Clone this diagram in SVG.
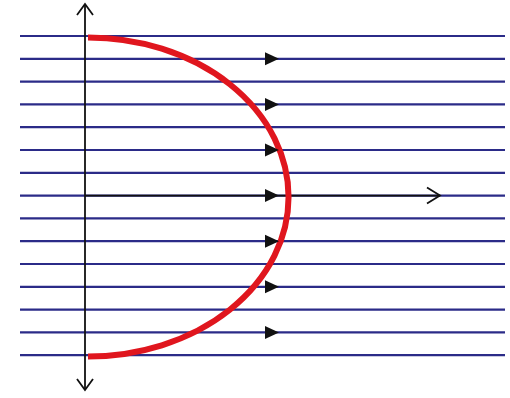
<svg xmlns="http://www.w3.org/2000/svg" width="510" height="398" viewBox="0 0 510 398">
<style>
.flow{stroke:#2b2b88;stroke-width:2.2;fill:none}
.axis{stroke:#111;stroke-width:1.8;fill:none}
.head{fill:#111;stroke:none}
.profile{stroke:#e0161e;stroke-width:6;fill:none;stroke-linecap:butt}
</style>
<defs>
<polygon id="tri" class="head" points="-7,-6.5 7,0 -7,6.5"/>
</defs>
<rect width="510" height="398" fill="#fff"/>
<g id="streamlines">
<line class="flow" x1="20" y1="36" x2="505" y2="36"/>
<line class="flow" x1="20" y1="58.8" x2="505" y2="58.8"/>
<line class="flow" x1="20" y1="81.6" x2="505" y2="81.6"/>
<line class="flow" x1="20" y1="104.4" x2="505" y2="104.4"/>
<line class="flow" x1="20" y1="127.2" x2="505" y2="127.2"/>
<line class="flow" x1="20" y1="150" x2="505" y2="150"/>
<line class="flow" x1="20" y1="172.8" x2="505" y2="172.8"/>
<line class="flow" x1="20" y1="195.6" x2="505" y2="195.6"/>
<line class="flow" x1="20" y1="218.4" x2="505" y2="218.4"/>
<line class="flow" x1="20" y1="241.2" x2="505" y2="241.2"/>
<line class="flow" x1="20" y1="264" x2="505" y2="264"/>
<line class="flow" x1="20" y1="286.8" x2="505" y2="286.8"/>
<line class="flow" x1="20" y1="309.6" x2="505" y2="309.6"/>
<line class="flow" x1="20" y1="332.4" x2="505" y2="332.4"/>
<line class="flow" x1="20" y1="355.2" x2="505" y2="355.2"/>
</g>
<g id="axes">
<line class="axis" x1="85" y1="4" x2="85" y2="390"/>
<polyline class="axis" points="77,15 85,4 93,15"/>
<polyline class="axis" points="77,379 85,390 93,379"/>
<line class="axis" x1="85" y1="195.6" x2="440" y2="195.6"/>
<polyline class="axis" points="427,187.6 440,195.6 427,203.6"/>
</g>
<g id="profile">
<path class="profile" d="M88,37.5 A200,159 0 0 1 88,356.5"/>
</g>
<g id="arrowheads">
<use href="#tri" x="272" y="58.8"/>
<use href="#tri" x="272" y="104.4"/>
<use href="#tri" x="272" y="150"/>
<use href="#tri" x="272" y="195.6"/>
<use href="#tri" x="272" y="241.2"/>
<use href="#tri" x="272" y="286.8"/>
<use href="#tri" x="272" y="332.4"/>
</g>
</svg>
